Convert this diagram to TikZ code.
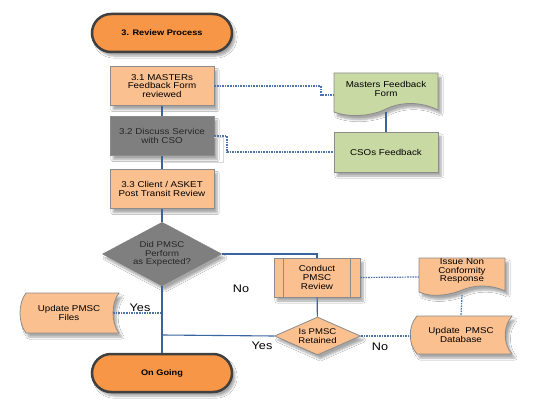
\documentclass[tikz,border=0pt]{standalone}
\usepackage{fontspec}
\setmainfont{Liberation Sans}[FakeStretch=1.15]
\usetikzlibrary{shapes.geometric,shadows.blur,calc}
\definecolor{orangeT}{HTML}{F79646}
\definecolor{peach}{HTML}{FAC090}
\definecolor{dgray}{HTML}{7F7F7F}
\definecolor{greenF}{HTML}{C9D9A3}
\definecolor{blueL}{HTML}{3A64A0}
\definecolor{bord}{HTML}{8C8C8C}
\tikzset{
  sh/.style={blur shadow={shadow xshift=3pt,shadow yshift=-4pt,shadow blur steps=6,shadow opacity=35}},
  term/.style={rectangle, rounded corners=19pt, minimum width=140pt, minimum height=38pt, fill=orangeT, draw=black!75, line width=2.5pt, font=\bfseries\fontsize{8}{9}\selectfont, sh},
  proc/.style={rectangle, fill=peach, draw=bord, line width=0.8pt, minimum width=104pt, minimum height=39pt, align=center, font=\fontsize{8.5}{8.8}\selectfont, sh},
  txt/.style={align=center, font=\fontsize{8.5}{8.8}\selectfont, inner sep=0pt},
  shapebox/.style={draw=bord, line width=0.8pt, sh},
  dia/.style={diamond, aspect=1.9, inner sep=0pt, align=center, font=\fontsize{8.3}{8.5}\selectfont, sh},
  conn/.style={draw=blueL, line width=1.1pt},
  dotc/.style={draw=blueL!90, line width=1.2pt, dash pattern=on 1.6pt off 1pt},
  lab/.style={font=\fontsize{11}{12}\selectfont, inner sep=0pt}
}
\begin{document}
\begin{tikzpicture}[x=1pt,y=-1pt]
\fill[white] (0,0) rectangle (544,420);
\useasboundingbox (0,0) rectangle (544,420);

% main column
\node[term] (start) at (162,33) {3. Review Process};
\node[proc] (s31) at (162,86) {3.1 MASTERs\\Feedback Form\\reviewed};
\node[proc, fill=dgray, text=black!85] (s32) at (162,136) {3.2 Discuss Service\\with CSO};
\node[proc] (s33) at (162,189) {3.3 Client / ASKET\\Post Transit Review};
\node[dia, fill=dgray, text=black!85, minimum width=120pt, minimum height=64pt] (d1) at (162,254) {Did PMSC\\Perform\\as Expected?};
\node[term] (end) at (162,373) {On Going};

% light line next to 3.2
\draw[black!15, line width=0.8pt] (214,137) -- (223,137) -- (223,162) -- (164,162);

% Conduct PMSC Review (predefined process)
\node[proc, minimum width=86pt, minimum height=39pt] (conduct) at (317,277.5) {Conduct\\PMSC\\Review};
\draw[bord, line width=0.8pt] ($(conduct.north west)+(10,0)$) -- ($(conduct.south west)+(10,0)$)
  ($(conduct.north east)+(-10,0)$) -- ($(conduct.south east)+(-10,0)$);

% Is PMSC Retained
\node[dia, fill=peach, draw=bord, line width=0.8pt, minimum width=86pt, minimum height=38pt] (d2) at (317.5,336) {Is PMSC\\Retained};

% Masters Feedback Form (document)
\path[shapebox, fill=greenF] (334,73) -- (438,73) -- (438,110)
  .. controls (420,101) and (400,102) .. (386,109)
  .. controls (372,116) and (350,118) .. (334,112) -- cycle;
\node[txt, minimum width=104pt, minimum height=43pt] (mff) at (386,94.5) {};
\node[txt] at (386,89) {Masters Feedback\\Form};

% CSOs Feedback
\node[proc, fill=greenF, minimum width=104pt, minimum height=40pt] (cso) at (386,152) {CSOs Feedback};

% Issue Non Conformity Response (document)
\path[shapebox, fill=peach] (419,258) -- (505,258) -- (505,291)
  .. controls (490,284) and (474,285) .. (462,290)
  .. controls (450,295) and (432,298) .. (419,292) -- cycle;
\node[txt, minimum width=86pt, minimum height=38pt] (inc) at (462,277) {};
\node[txt] at (462,271) {Issue Non\\Conformity\\Response};

% Update PMSC Database (stored data)
\path[shapebox, fill=peach] (417,316) -- (512,316)
  .. controls (503,326) and (503,344) .. (512,354) -- (417,354)
  .. controls (408,344) and (408,326) .. (417,316) -- cycle;
\node[txt, minimum width=96pt, minimum height=38pt] (db) at (461,335) {};
\node[txt] at (461,335) {Update \ PMSC\\Database};

% Update PMSC Files (stored data)
\path[shapebox, fill=peach] (26,293) -- (119,293)
  .. controls (111,303) and (111,323) .. (119,333) -- (26,333)
  .. controls (18,323) and (18,303) .. (26,293) -- cycle;
\node[txt, minimum width=92pt, minimum height=40pt] (upf) at (69,313) {};
\node[txt] at (69,313) {Update PMSC\\Files};

% coordinates on main line
\coordinate (jy) at (162,335);
\coordinate (jf) at (162,313);

% solid connectors
\draw[conn] (s31) -- (s32);
\draw[conn] (s32) -- (s33);
\draw[conn] (s33) -- (d1);
\draw[conn] (d1) -- (end);
\draw[conn] (d1.east) -| (conduct.north);
\draw[conn] (conduct) -- (d2);
\draw[conn] (d2.west) -- (jy);
\draw[conn] (mff.south) ++(0,-4) -- (cso.north);

% dotted connectors
\draw[dotc] (s31.east) -- (321,86) -- (321,95) -- (mff.west |- 0,95);
\draw[dotc] (s32.east) -- (227,136) -- (227,152) -- (cso.west);
\draw[dotc] (113,313) -- (jf);
\draw[dotc] (conduct.east) -- (inc.west);
\draw[dotc] (462,295) -- (db.north);
\draw[dotc] (d2.east) -- (411,336);

% labels
\node[lab] (lno1) at (241,289) {No};
\node[lab] (lyes1) at (140,308) {Yes};
\node[lab] (lyes2) at (262,346) {Yes};
\node[lab] (lno2) at (380,347) {No};
\end{tikzpicture}
\end{document}
